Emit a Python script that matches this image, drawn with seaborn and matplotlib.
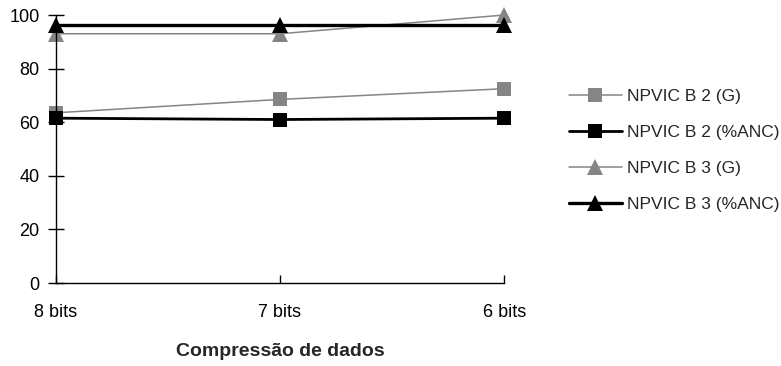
import matplotlib
matplotlib.use("Agg")
import matplotlib.pyplot as plt
import seaborn as sns
import pandas as pd

# Data
categories = ["8 bits", "7 bits", "6 bits"]
b2_g = [63.5, 68.5, 72.5]
b2_anc = [61.5, 61.0, 61.5]
b3_g = [93.0, 93.0, 100.0]
b3_anc = [96.3, 96.3, 96.3]
series_names = ["NPVIC B 2 (G)", "NPVIC B 2 (%ANC)", "NPVIC B 3 (G)", "NPVIC B 3 (%ANC)"]
y_ticks = [0, 20, 40, 60, 80, 100]

sns.set_style("white")
plt.rcParams["font.family"] = ["Liberation Sans", "DejaVu Sans"]

frames = []
for name, vals in zip(series_names, [b2_g, b2_anc, b3_g, b3_anc]):
    frames.append(pd.DataFrame({"cat": categories, "val": vals, "serie": name}))
df = pd.concat(frames, ignore_index=True)

styles = {
    "NPVIC B 2 (G)": dict(color="#858585", marker="s", lw=1.1, ms=9.5),
    "NPVIC B 2 (%ANC)": dict(color="#000000", marker="s", lw=2.0, ms=9.5),
    "NPVIC B 3 (G)": dict(color="#858585", marker="^", lw=1.1, ms=11),
    "NPVIC B 3 (%ANC)": dict(color="#000000", marker="^", lw=2.4, ms=11),
}

fig = plt.figure(figsize=(7.81, 3.66), dpi=100)
ax = fig.add_axes([55.5 / 781, 1 - 283 / 366, (504.5 - 55.5) / 781, (283 - 15) / 366])

for name in series_names:
    st = styles[name]
    sub = df[df["serie"] == name]
    sns.lineplot(data=sub, x="cat", y="val", ax=ax, color=st["color"],
                 marker=st["marker"], markersize=st["ms"], markeredgewidth=0,
                 linewidth=st["lw"], label=name, sort=False, clip_on=False)

ax.set_xlim(0, 2)
ax.set_ylim(0, 100)
ax.set_yticks(y_ticks)
ax.set_xticks(range(len(categories)))
ax.set_xticklabels(categories)
for s in ["top", "right"]:
    ax.spines[s].set_visible(False)
for s in ["left", "bottom"]:
    ax.spines[s].set_color("black")
    ax.spines[s].set_linewidth(1.0)
ax.tick_params(axis="y", left=True, direction="inout", length=11, width=1,
               labelsize=13, pad=6, colors="black")
ax.tick_params(axis="x", bottom=True, direction="in", length=6, width=1,
               labelsize=13, pad=15, colors="black")
ax.set_ylabel("")
ax.set_xlabel("Compressão de dados", fontsize=14, fontweight="bold", labelpad=16)

handles, labels = ax.get_legend_handles_labels()
ax.legend(handles, labels, loc="center left", bbox_to_anchor=(569 / 781, 1 - 150.5 / 366),
          bbox_transform=fig.transFigure, frameon=False, fontsize=12.5,
          handlelength=3.05, handletextpad=0.3, labelspacing=1.2, borderaxespad=0,
          borderpad=0)

fig.savefig("out.png", dpi=100)
